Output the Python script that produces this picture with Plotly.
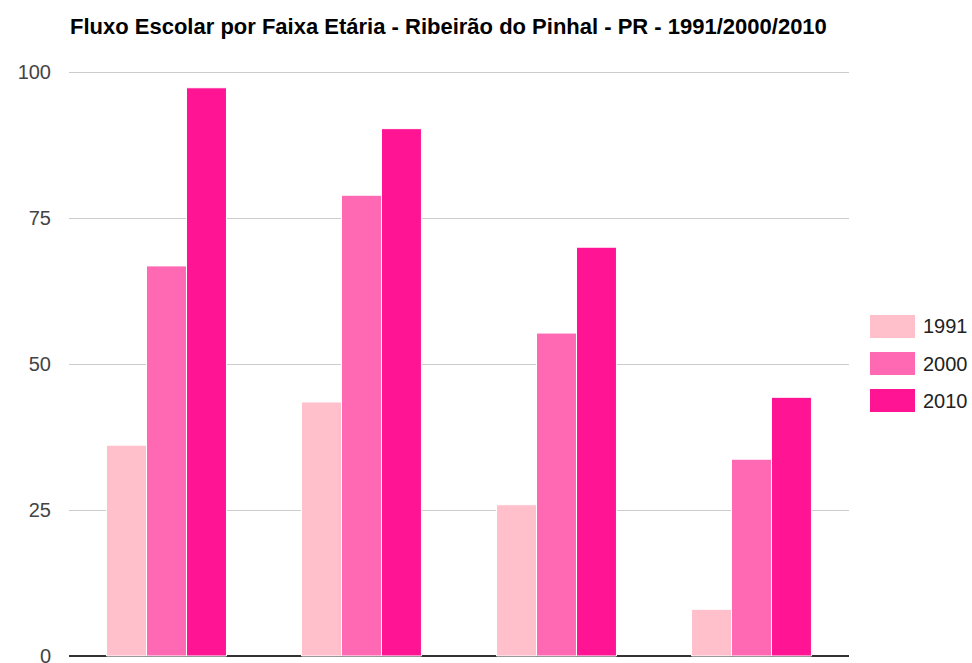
import plotly.graph_objects as go

categories = [
    "5 a 6 anos na escola",
    "11 a 13 anos nos anos finais do fundamental",
    "15 a 17 anos com fundamental completo",
    "18 a 20 anos com médio completo",
]
years = ["1991", "2000", "2010"]
values_1991 = [36.1, 43.5, 25.9, 8.0]
values_2000 = [66.8, 78.9, 55.3, 33.7]
values_2010 = [97.3, 90.3, 70.0, 44.3]
colors = ["#FFC0CB", "#FF69B4", "#FF1493"]

W, H = 972, 663
ML, MR, MT, MB = 69, 123, 69, 4
PX_PER_UNIT = 5.84
YMIN = -3 / PX_PER_UNIT
YMAX = 100 + 3 / PX_PER_UNIT

fig = go.Figure()
for name, vals, col in zip(years, [values_1991, values_2000, values_2010], colors):
    fig.add_trace(go.Bar(
        name=name, x=categories, y=vals,
        marker=dict(color=col, line=dict(color="white", width=1)),
        showlegend=False,
    ))

# manual legend (Google-Charts style wide swatches)
PW, PH = W - ML - MR, H - MT - MB
shapes = []
annotations = []
leg_y0 = 315
for i, (name, col) in enumerate(zip(years, colors)):
    y0 = leg_y0 + i * 37
    shapes.append(dict(type="rect", xref="paper", yref="paper",
                       x0=(870 - ML) / PW, x1=(915 - ML) / PW,
                       y0=1 - (y0 + 23 - MT) / PH, y1=1 - (y0 - MT) / PH,
                       fillcolor=col, line=dict(width=0)))
    annotations.append(dict(xref="paper", yref="paper",
                            x=(921 - ML) / PW,
                            y=1 - (y0 + 11.5 - MT) / PH,
                            text=name, showarrow=False, xanchor="left", yanchor="middle",
                            font=dict(family="Liberation Sans, Arial", size=20, color="#222222")))

fig.update_layout(
    width=W, height=H,
    margin=dict(l=ML, r=MR, t=MT, b=MB, autoexpand=False),
    plot_bgcolor="white", paper_bgcolor="white",
    barmode="group", bargap=0.385, bargroupgap=0,
    font=dict(family="Liberation Sans, Arial", size=20, color="#444444"),
    title=dict(text="<b>Fluxo Escolar por Faixa Etária - Ribeirão do Pinhal - PR - 1991/2000/2010</b>",
               xref="container", yref="container", x=70 / W, xanchor="left",
               y=1 - 26 / H, yanchor="middle",
               font=dict(family="Liberation Sans, Arial", size=22, color="#000000")),
    xaxis=dict(showticklabels=False, showgrid=False, automargin=False, ticks=""),
    yaxis=dict(range=[YMIN, YMAX], tickvals=[0, 25, 50, 75, 100], showgrid=True,
               gridcolor="#cccccc", gridwidth=1, zeroline=True, zerolinecolor="#333333",
               zerolinewidth=2, automargin=False, ticklabelstandoff=17,
               ticklabeloverflow="allow",
               tickfont=dict(size=20, color="#444444")),
    shapes=shapes, annotations=annotations,
)

fig.write_html("out.html", config={"displayModeBar": False},
               post_script="document.body.style.margin='0px';document.body.style.overflow='hidden';")
